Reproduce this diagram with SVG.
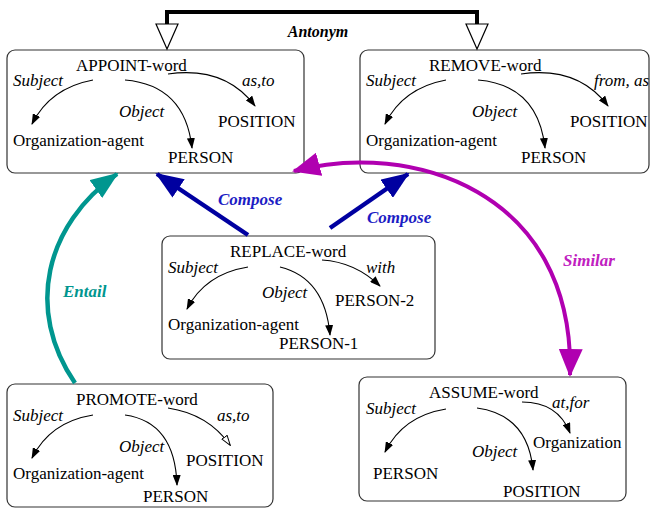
<svg xmlns="http://www.w3.org/2000/svg" width="651" height="510" viewBox="0 0 651 510">
<style>
.box{fill:#fff;stroke:#333;stroke-width:1.2}
.t{font-family:"Liberation Serif",serif;font-size:17px;fill:#000}
.i{font-family:"Liberation Serif",serif;font-size:17px;font-style:italic;fill:#000}
.lbl{font-family:"Liberation Serif",serif;font-size:17px;font-style:italic;font-weight:bold}
.rel{fill:none;stroke:#000;stroke-width:1.1;marker-end:url(#ah)}
.relo{fill:none;stroke:#000;stroke-width:1.1;marker-end:url(#aho)}
</style>
<defs>
<marker id="ah" markerUnits="userSpaceOnUse" markerWidth="11" markerHeight="8" refX="10" refY="4" orient="auto" viewBox="0 0 11 8">
<path d="M0,0 L11,4 L0,8 z" fill="#000"/>
</marker>
<marker id="aho" markerUnits="userSpaceOnUse" markerWidth="11" markerHeight="8" refX="10" refY="4" orient="auto" viewBox="0 0 11 8">
<path d="M0.5,0.8 L10.5,4 L0.5,7.2 z" fill="#fff" stroke="#000" stroke-width="1"/>
</marker>
<marker id="am" markerUnits="userSpaceOnUse" markerWidth="28" markerHeight="24" refX="26" refY="12" orient="auto-start-reverse" viewBox="0 0 28 24">
<path d="M0,0 L28,12 L0,24 z" fill="#b000b0"/>
</marker>
<marker id="ab" markerUnits="userSpaceOnUse" markerWidth="28" markerHeight="22" refX="26" refY="11" orient="auto" viewBox="0 0 28 22">
<path d="M0,0 L28,11 L0,22 z" fill="#0000a0"/>
</marker>
<marker id="at" markerUnits="userSpaceOnUse" markerWidth="28" markerHeight="22" refX="26" refY="11" orient="auto" viewBox="0 0 28 22">
<path d="M0,0 L28,11 L0,22 z" fill="#00968f"/>
</marker>
</defs>

<g id="appoint">
<rect class="box" x="7" y="50" width="297" height="123" rx="8"/>
<text class="t" x="76" y="71">APPOINT-word</text>
<text class="i" x="13" y="86">Subject</text>
<text class="i" x="242" y="86">as,to</text>
<text class="i" x="119" y="117">Object</text>
<text class="t" x="218" y="127">POSITION</text>
<text class="t" x="13" y="146">Organization-agent</text>
<text class="t" x="168" y="163">PERSON</text>
<path class="rel" d="M93,80 Q50,88 32,124"/>
<path class="rel" d="M125,80 Q185,85 192,148"/>
<path class="rel" d="M168,74 Q225,66 255,106"/>
</g>

<g id="remove">
<rect class="box" x="360" y="50" width="289" height="123" rx="8"/>
<text class="t" x="429" y="71">REMOVE-word</text>
<text class="i" x="366" y="86">Subject</text>
<text class="i" x="594" y="86">from, as</text>
<text class="i" x="472" y="117">Object</text>
<text class="t" x="570" y="127">POSITION</text>
<text class="t" x="366" y="146">Organization-agent</text>
<text class="t" x="521" y="163">PERSON</text>
<path class="rel" d="M446,80 Q403,88 385,124"/>
<path class="rel" d="M478,80 Q538,85 545,148"/>
<path class="rel" d="M521,74 Q578,66 608,106"/>
</g>

<g id="replace">
<rect class="box" x="162" y="236" width="273" height="123" rx="8"/>
<text class="t" x="230" y="257">REPLACE-word</text>
<text class="i" x="168" y="273">Subject</text>
<text class="i" x="366" y="273">with</text>
<text class="i" x="262" y="298">Object</text>
<text class="t" x="335" y="306">PERSON-2</text>
<text class="t" x="168" y="330">Organization-agent</text>
<text class="t" x="279" y="349">PERSON-1</text>
<path class="rel" d="M248,267 Q205,274 187,309"/>
<path class="rel" d="M280,267 Q325,278 330,335"/>
<path class="rel" d="M322,260 Q355,262 380,286"/>
</g>

<g id="promote">
<rect class="box" x="7" y="384" width="266" height="123" rx="8"/>
<text class="t" x="76" y="405">PROMOTE-word</text>
<text class="i" x="13" y="421">Subject</text>
<text class="i" x="217" y="421">as,to</text>
<text class="i" x="119" y="452">Object</text>
<text class="t" x="186" y="466">POSITION</text>
<text class="t" x="13" y="479">Organization-agent</text>
<text class="t" x="143" y="502">PERSON</text>
<path class="rel" d="M93,415 Q50,422 32,458"/>
<path class="rel" d="M125,415 Q175,422 177,485"/>
<path class="relo" d="M168,408 Q208,414 230,445"/>
</g>

<g id="assume">
<rect class="box" x="359" y="377" width="267" height="124" rx="8"/>
<text class="t" x="429" y="398">ASSUME-word</text>
<text class="i" x="366" y="414">Subject</text>
<text class="i" x="552" y="408">at,for</text>
<text class="t" x="533" y="448">Organization</text>
<text class="i" x="472" y="457">Object</text>
<text class="t" x="373" y="479">PERSON</text>
<text class="t" x="503" y="497">POSITION</text>
<path class="rel" d="M446,409 Q403,416 385,452"/>
<path class="rel" d="M477,408 Q528,415 533,470"/>
<path class="rel" d="M522,402 Q558,402 570,433"/>
</g>

<g id="connectors">
<path d="M167,25 V12 H477 V25" fill="none" stroke="#000" stroke-width="4"/>
<polygon points="156,24 178,24 167,49" fill="#fff" stroke="#000" stroke-width="1.2"/>
<polygon points="466,24 488,24 477,49" fill="#fff" stroke="#000" stroke-width="1.2"/>
<text class="lbl" x="318" y="37" text-anchor="middle" fill="#000" style="font-size:16px">Antonym</text>

<path d="M248,235 L157,174" fill="none" stroke="#0000a0" stroke-width="4.5" marker-end="url(#ab)"/>
<path d="M330,228 L408,174" fill="none" stroke="#0000a0" stroke-width="4.5" marker-end="url(#ab)"/>
<text class="lbl" x="218" y="205" fill="#1c1cc4">Compose</text>
<text class="lbl" x="367" y="223" fill="#1c1cc4">Compose</text>

<path d="M75,383 C25,310 45,225 117,174" fill="none" stroke="#00968f" stroke-width="4.5" marker-end="url(#at)"/>
<text class="lbl" x="63" y="297" fill="#00968f">Entail</text>

<path d="M294,171 C410,140 575,190 570,375" fill="none" stroke="#b000b0" stroke-width="4" marker-start="url(#am)" marker-end="url(#am)"/>
<text class="lbl" x="563" y="266" fill="#c020c0">Similar</text>
</g>
</svg>
